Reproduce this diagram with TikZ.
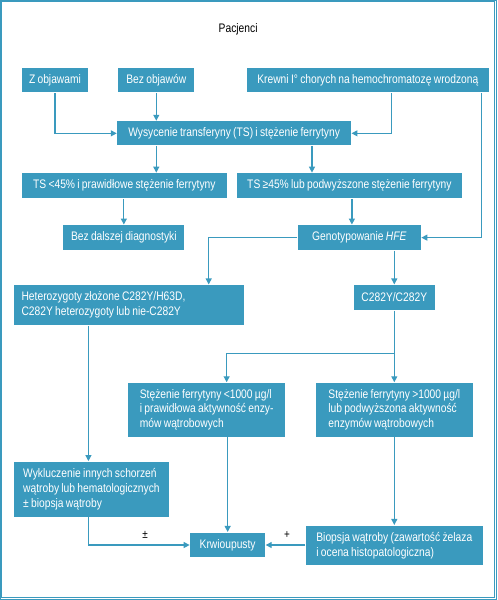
\documentclass[tikz,border=0pt]{standalone}
\usepackage{fontspec}
\setmainfont[FakeStretch=0.83,WordSpace=0.8]{Liberation Sans}
\usetikzlibrary{arrows.meta,positioning,calc}
\definecolor{hfe}{RGB}{58,154,190}

\begin{document}
\begin{tikzpicture}[x=1pt,y=-1pt,
  >={Triangle[length=6pt,width=6pt]},
  every path/.style={draw=hfe,line width=1.2pt},
  box/.style={fill=hfe,draw=none,text=white,inner sep=0pt,font=\fontsize{12.4}{15}\selectfont},
  tbox/.style={box,align=left},
  znak/.style={draw=none,text=black,font=\fontsize{12}{13}\selectfont,above=3pt}]
\useasboundingbox (0,0) rectangle (497,600);
\draw [line width=0.8pt] (1,1) rectangle (495,598);
\node [font=\fontsize{12.4}{13}\selectfont] (pac) at (238,29) {Pacjenci};
% wiersz 1
\node [box,minimum width=67pt,minimum height=24pt] (zob) at (54.5,80) {Z objawami};
\node [box,minimum width=76pt,minimum height=24pt] (bez) at (156,80) {Bez objawów};
\node [box,minimum width=242pt,minimum height=24pt] (krew) at (368,80) {Krewni I° chorych na hemochromatozę wrodzoną};
\node [box,minimum width=234pt,minimum height=24pt] (wys) at (234,133) {Wysycenie transferyny (TS) i stężenie ferrytyny};
% wiersz 2
\node [box,minimum width=206pt,minimum height=25pt] (tsn) at (124,185.5) {TS <45\% i prawidłowe stężenie ferrytyny};
\node [box,minimum width=225pt,minimum height=25pt] (tsw) at (349.5,185.5) {TS ≥45\% lub podwyższone stężenie ferrytyny};
\node [box,minimum width=121pt,minimum height=25pt] (bdd) at (123.5,237.5) {Bez dalszej diagnostyki};
\node [box,minimum width=123pt,minimum height=25pt] (geno) at (359.5,237.5) {Genotypowanie \textit{HFE}};
% genotypy
\node [tbox,minimum width=231pt,minimum height=40pt] (het) at (128.5,305) {\makebox[215pt][l]{Heterozygoty złożone C282Y/H63D,}\\C282Y heterozygoty lub nie-C282Y};
\node [box,minimum width=81pt,minimum height=25pt] (homo) at (394.5,297.5) {C282Y/C282Y};
\node [tbox,minimum width=157pt,minimum height=54pt] (fn) at (206.5,410) {Stężenie ferrytyny <1000 µg/l\\i prawidłowa aktywność enzy-\\mów wątrobowych};
\node [tbox,minimum width=157pt,minimum height=54pt] (fw) at (394.5,410) {Stężenie ferrytyny >1000 µg/l\\lub podwyższona aktywność\\enzymów wątrobowych};
% dol
\node [tbox,minimum width=156pt,minimum height=55pt] (wyk) at (91,489.5) {Wykluczenie innych schorzeń\\wątroby lub hematologicznych\\± biopsja wątroby};
\node [box,minimum width=75pt,minimum height=25pt] (krw) at (227.5,545.5) {Krwioupusty};
\node [tbox,minimum width=177pt,minimum height=40pt] (bio) at (394.5,546) {Biopsja wątroby (zawartość żelaza\\i ocena histopatologiczna)};
\coordinate (r1) at (394.5,354);

\draw [->] (zob) |- (wys);
\draw [->] (bez) -- (bez |- wys.north);
\draw [->] ([xshift=24pt]krew.south) |- (wys);
\draw [->] ([xshift=-8pt]krew.south east) |- (geno);
\draw [->] (wys.south -| bez) -- (bez |- tsn.north);
\draw [->] ([xshift=78pt]wys.south) -- ([xshift=78pt]wys.south |- tsw.north);
\draw [->] (bdd.north |- tsn.south) -- (bdd.north);
\draw [->] ([xshift=2.5pt]tsw.south) -- ([xshift=2.5pt]tsw.south |- geno.north);
\draw [->] (geno.west) -| ([xshift=80pt]het.north);
\draw [->] (geno.south -| homo) -- (homo.north);
\draw [->] (homo) -- (fw);
\draw [->] (r1) -| ([xshift=20pt]fn.north);
\draw [->] ([xshift=-3pt]wyk.north |- het.south) -- ([xshift=-3pt]wyk.north);
\draw [->] ([xshift=-3pt]wyk.south) |- (krw) node [znak,pos=0.78] (pm) {±};
\draw [->] (krw.north |- fn.south) -- (krw);
\draw [->] (fw) -- (bio);
\draw [->] (bio.west |- krw) -- (krw) node [znak,pos=0.46] (plus) {+};
\end{tikzpicture}
\end{document}
